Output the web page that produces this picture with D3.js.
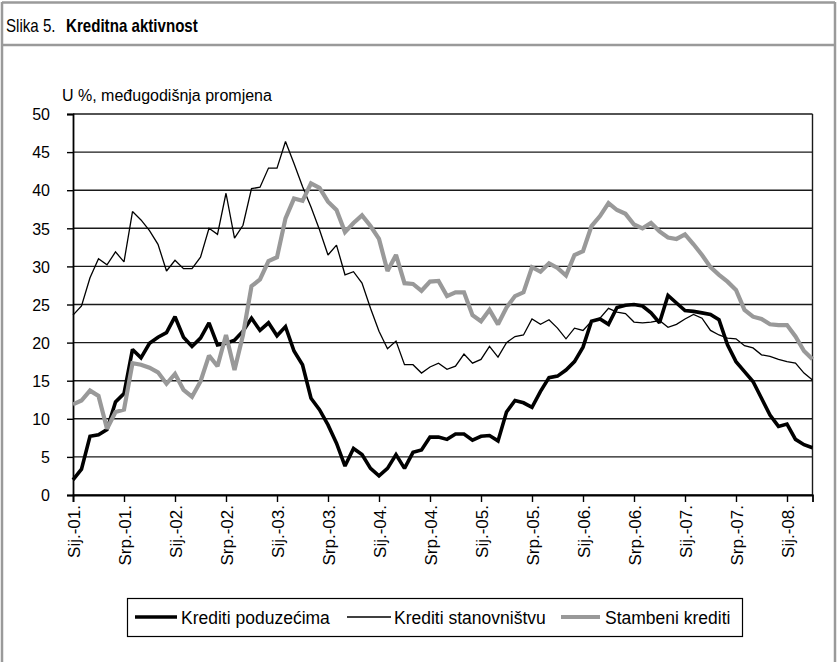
<!DOCTYPE html>
<html lang="hr">
<head>
  <meta charset="UTF-8" />
  <title>Slika 5. Kreditna aktivnost</title>
  <script src="https://d3js.org/d3.v7.min.js"></script>
  <style>
    body {
      margin: 0;
      background: #fff;
    }
    svg text {
      font-family: 'Liberation Sans', Arial, sans-serif;
      fill: #000;
    }
  </style>
</head>
<body>
  <div id="chart"></div>

  <script>
    // Monthly series, Sij. 2001 - Tra. 2008 (88 months)
    const poduzecima = [
      2.0, 3.4, 7.7, 7.9, 8.6, 12.2, 13.3, 19.1, 18.0, 19.9, 20.7, 21.3,
      23.4, 20.7, 19.5, 20.6, 22.6, 19.7, 19.9, 20.3, 21.5, 23.2, 21.6, 22.6,
      20.9, 22.1, 18.9, 17.1, 12.7, 11.2, 9.2, 6.8, 3.8, 6.1, 5.3, 3.5,
      2.5, 3.5, 5.3, 3.5, 5.6, 5.9, 7.6, 7.6, 7.3, 8.0, 8.0, 7.2,
      7.7, 7.8, 7.1, 10.9, 12.4, 12.1, 11.5, 13.6, 15.4, 15.6, 16.4, 17.5,
      19.4, 22.8, 23.1, 22.4, 24.6, 24.9, 25.0, 24.8, 23.9, 22.6, 26.2, 25.2,
      24.2, 24.1, 23.9, 23.7, 23.0, 19.7, 17.5, 16.2, 14.9, 12.7, 10.5, 9.0,
      9.3, 7.3, 6.6, 6.2
    ];
    const stanovnistvu = [
      23.6, 24.8, 28.5, 31.0, 30.2, 31.9, 30.6, 37.2, 36.1, 34.7, 32.9, 29.4,
      30.8, 29.7, 29.7, 31.2, 35.0, 34.2, 39.6, 33.7, 35.4, 40.2, 40.4, 42.9,
      42.9, 46.4, 43.5, 40.5, 37.8, 34.8, 31.5, 32.8, 28.9, 29.3, 27.8, 24.5,
      21.5, 19.2, 20.2, 17.1, 17.1, 16.0, 16.8, 17.3, 16.5, 16.9, 18.5, 17.3,
      17.8, 19.5, 18.1, 20.0, 20.8, 21.0, 23.1, 22.4, 23.0, 21.9, 20.5, 21.9,
      21.6, 22.8, 23.2, 24.5, 24.0, 23.8, 22.7, 22.6, 22.7, 22.9, 22.0, 22.4,
      23.1, 23.7, 23.2, 21.6, 21.0, 20.6, 20.5, 19.6, 19.3, 18.4, 18.2, 17.8,
      17.5, 17.3, 16.0, 15.1
    ];
    const stambeni = [
      11.9, 12.4, 13.7, 13.0, 8.7, 10.9, 11.2, 17.3, 17.1, 16.7, 16.1, 14.6,
      15.9, 13.8, 12.9, 14.9, 18.3, 16.9, 21.0, 16.4, 21.0, 27.4, 28.3, 30.7,
      31.2, 36.3, 38.9, 38.6, 40.9, 40.3, 38.5, 37.4, 34.5, 35.7, 36.7, 35.3,
      33.6, 29.4, 31.5, 27.8, 27.7, 26.8, 28.0, 28.1, 26.1, 26.6, 26.6, 23.6,
      22.8, 24.3, 22.4, 24.6, 26.1, 26.6, 29.9, 29.3, 30.4, 29.8, 28.8, 31.5,
      32.0, 35.3, 36.6, 38.3, 37.4, 36.9, 35.5, 35.0, 35.7, 34.6, 33.8, 33.6,
      34.2, 32.9, 31.5, 29.9, 28.9, 28.0, 26.9, 24.3, 23.4, 23.1, 22.4, 22.3,
      22.3, 20.8, 18.9, 17.8
    ];

    // one label every 6 months
    const tickLabels = [
      "Sij.-01.", "Srp.-01.", "Sij.-02.", "Srp.-02.", "Sij.-03.", "Srp.-03.",
      "Sij.-04.", "Srp.-04.", "Sij.-05.", "Srp.-05.", "Sij.-06.", "Srp.-06.",
      "Sij.-07.", "Srp.-07.", "Sij.-08."
    ];
    const yTicks = [0, 5, 10, 15, 20, 25, 30, 35, 40, 45, 50];

    const seriesNames = ["Krediti poduzećima", "Krediti stanovništvu", "Stambeni krediti"];
    const series = [
      { name: seriesNames[0], values: poduzecima, color: "#000", width: 3.6 },
      { name: seriesNames[1], values: stanovnistvu, color: "#000", width: 1.3 },
      { name: seriesNames[2], values: stambeni, color: "#999", width: 4.2 }
    ];

    const W = 837, H = 662;
    const plot = { left: 73, right: 812.5, top: 114, bottom: 495 };

    const svg = d3.select("#chart").append("svg")
      .attr("width", W)
      .attr("height", H);

    // frame of the figure
    const frame = "#9a9a9a";
    svg.append("line").attr("x1", 2).attr("x2", 2).attr("y1", 2).attr("y2", H)
      .attr("stroke", frame).attr("stroke-width", 2.5);
    svg.append("line").attr("x1", 835).attr("x2", 835).attr("y1", 2).attr("y2", H)
      .attr("stroke", frame).attr("stroke-width", 2.5);
    svg.append("line").attr("x1", 2).attr("x2", 835).attr("y1", 2.5).attr("y2", 2.5)
      .attr("stroke", frame).attr("stroke-width", 2.5);
    svg.append("line").attr("x1", 2).attr("x2", 835).attr("y1", 45).attr("y2", 45)
      .attr("stroke", frame).attr("stroke-width", 2.5);

    // title, squeezed a little to look like the narrow print face
    svg.append("text")
      .attr("transform", "translate(6,32) scale(0.84,1)")
      .style("font-size", "18px")
      .text("Slika 5.");
    svg.append("text")
      .attr("transform", "translate(66,32) scale(0.84,1)")
      .style("font-size", "18px")
      .style("font-weight", "bold")
      .text("Kreditna aktivnost");

    svg.append("text")
      .attr("x", 62)
      .attr("y", 101)
      .style("font-size", "16px")
      .text("U %, međugodišnja promjena");

    const x = d3.scaleLinear()
      .domain([0, poduzecima.length - 1])
      .range([plot.left, plot.right]);

    const y = d3.scaleLinear()
      .domain([0, 50])
      .range([plot.bottom, plot.top]);

    // horizontal grid
    svg.append("g")
      .selectAll("line")
      .data(yTicks)
      .enter().append("line")
      .attr("x1", plot.left)
      .attr("x2", plot.right)
      .attr("y1", d => y(d))
      .attr("y2", d => y(d))
      .attr("stroke", "#1a1a1a")
      .attr("stroke-width", 1.4);

    // right border of plot
    svg.append("line")
      .attr("x1", plot.right).attr("x2", plot.right)
      .attr("y1", plot.top).attr("y2", plot.bottom)
      .attr("stroke", "#1a1a1a").attr("stroke-width", 1.4);

    // y axis
    const yAxis = svg.append("g")
      .attr("transform", `translate(${plot.left},0)`)
      .call(d3.axisLeft(y).tickValues(yTicks).tickSize(6).tickPadding(17));
    yAxis.select(".domain").attr("stroke", "#000").attr("stroke-width", 1.8);
    yAxis.selectAll(".tick line").attr("stroke", "#000").attr("stroke-width", 1.4);
    yAxis.selectAll(".tick text")
      .style("font-size", "16px")
      .attr("dy", "0.36em");

    // x axis, tick every 6 months
    const tickIdx = tickLabels.map((_, i) => i * 6);
    const xAxis = svg.append("g")
      .attr("transform", `translate(0,${plot.bottom})`)
      .call(d3.axisBottom(x)
        .tickValues(tickIdx)
        .tickSize(7)
        .tickFormat((d, i) => tickLabels[i]));
    xAxis.select(".domain").attr("stroke", "#000").attr("stroke-width", 1.8);
    xAxis.selectAll(".tick line").attr("stroke", "#000").attr("stroke-width", 1.4);
    xAxis.selectAll(".tick text")
      .style("font-size", "17px")
      .attr("text-anchor", "end")
      .attr("transform", "rotate(-90)")
      .attr("x", -10)
      .attr("y", 0)
      .attr("dy", "0.36em");

    const line = d3.line()
      .x((d, i) => x(i))
      .y(d => y(d))
      .curve(d3.curveLinear);

    svg.append("g")
      .selectAll("path")
      .data(series)
      .enter().append("path")
      .attr("d", d => line(d.values))
      .attr("fill", "none")
      .attr("stroke", d => d.color)
      .attr("stroke-width", d => d.width)
      .attr("stroke-linejoin", "miter")
      .attr("stroke-miterlimit", 2);

    // legend
    const legend = svg.append("g");
    legend.append("rect")
      .attr("x", 127.5).attr("y", 598.5)
      .attr("width", 615).attr("height", 38)
      .attr("fill", "#fff")
      .attr("stroke", "#000").attr("stroke-width", 1.2);

    const legendPos = [
      { x0: 135, x1: 177, tx: 181 },
      { x0: 347, x1: 391, tx: 394 },
      { x0: 561, x1: 600, tx: 605 }
    ];
    series.forEach((s, i) => {
      const p = legendPos[i];
      legend.append("line")
        .attr("x1", p.x0).attr("x2", p.x1)
        .attr("y1", 617).attr("y2", 617)
        .attr("stroke", s.color)
        .attr("stroke-width", s.width);
      legend.append("text")
        .attr("x", p.tx).attr("y", 623.5)
        .style("font-size", "17.5px")
        .text(s.name);
    });
  </script>
</body>
</html>
